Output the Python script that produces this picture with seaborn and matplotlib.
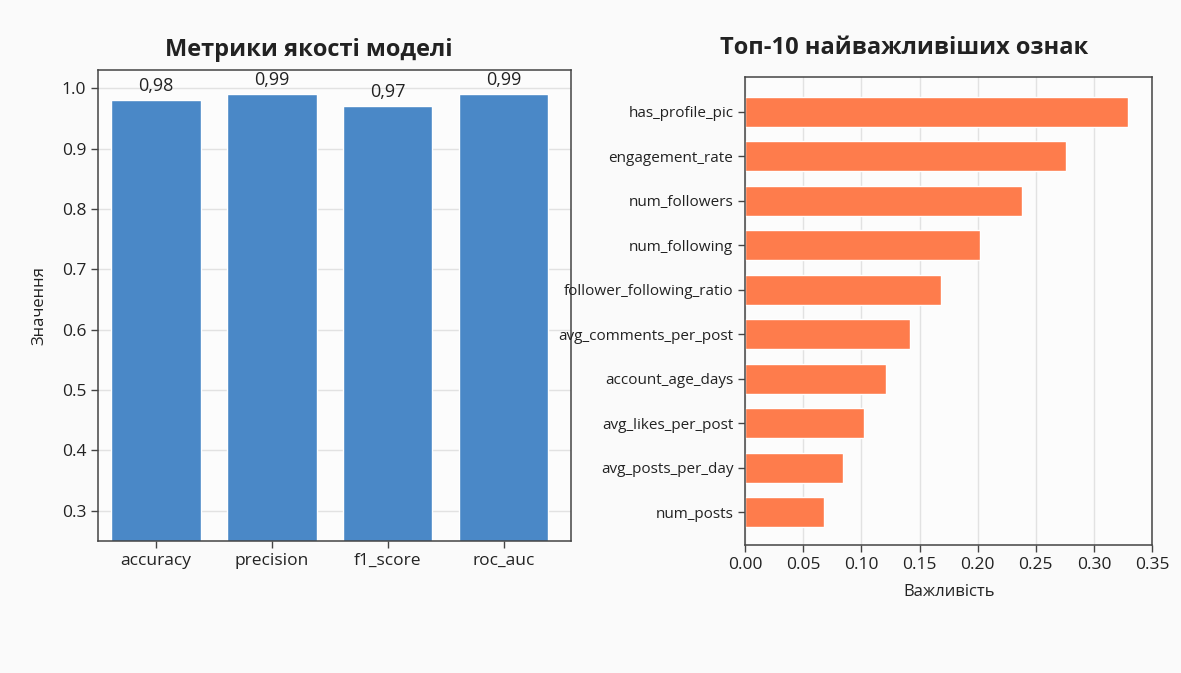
import matplotlib
matplotlib.use("Agg")
import matplotlib.pyplot as plt
import seaborn as sns
import pandas as pd

# Model quality metrics
metric_names = ["accuracy", "precision", "f1_score", "roc_auc"]
metric_values = [0.98, 0.99, 0.97, 0.99]

# Top-10 feature importances
feature_names = [
    "has_profile_pic", "engagement_rate", "num_followers", "num_following",
    "follower_following_ratio", "avg_comments_per_post", "account_age_days",
    "avg_likes_per_post", "avg_posts_per_day", "num_posts",
]
feature_importance = [0.329, 0.276, 0.238, 0.202, 0.168, 0.142, 0.121, 0.102, 0.0845, 0.068]

y_ticks = [0.3, 0.4, 0.5, 0.6, 0.7, 0.8, 0.9, 1.0]
x_ticks = [0.00, 0.05, 0.10, 0.15, 0.20, 0.25, 0.30, 0.35]

sns.set_theme(style="white")
plt.rcParams["font.family"] = ["Open Sans", "DejaVu Sans"]

BG = "#fafafa"
TXT = "#222222"
SPINE = "#444444"
GRID = "#e2e2e2"
BLUE = "#4a88c7"
ORANGE = "#fe7c4c"

fig = plt.figure(figsize=(11.81, 6.73), dpi=100, facecolor=BG)
ax1 = fig.add_axes([0.083, 0.196, 0.4005, 0.700])
ax2 = fig.add_axes([0.631, 0.190, 0.3445, 0.696])

metrics_df = pd.DataFrame({"metric": metric_names, "value": metric_values})
imp_df = pd.DataFrame({"feature": feature_names, "importance": feature_importance})

# Left panel: metric bars
sns.barplot(data=metrics_df, x="metric", y="value", color=BLUE, saturation=1,
            width=0.77, ax=ax1, zorder=2)
ax1.set_ylim(0.25, 1.03)
ax1.set_xlim(-0.5, 3.58)
ax1.set_yticks(y_ticks)
ax1.set_yticklabels([f"{t:.1f}" for t in y_ticks])
ax1.yaxis.grid(True, color=GRID, linewidth=1, zorder=0)
ax1.set_axisbelow(True)
for i, v in enumerate(metric_values):
    ax1.text(i, v + 0.008, f"{v:.2f}".replace(".", ","), ha="center", va="bottom",
             fontsize=13, color=TXT)
ax1.set_xlabel("")
ax1.set_ylabel("Значення", fontsize=12, color=TXT, labelpad=10)
ax1.set_title("Метрики якості моделі", fontsize=17, fontweight="bold",
              color=TXT, x=0.446, pad=10)

# Right panel: feature importances
sns.barplot(data=imp_df, y="feature", x="importance", color=ORANGE, saturation=1,
            width=0.68, orient="h", ax=ax2, zorder=2)
ax2.set_xlim(0, 0.35)
ax2.set_ylim(9.74, -0.79)
ax2.set_xticks(x_ticks)
ax2.set_xticklabels([f"{t:.2f}" for t in x_ticks])
ax2.xaxis.grid(True, color=GRID, linewidth=1, zorder=0)
ax2.set_axisbelow(True)
ax2.set_ylabel("")
ax2.set_xlabel("Важливість", fontsize=12, color=TXT, labelpad=8)
ax2.set_title("Топ-10 найважливіших ознак", fontsize=17, fontweight="bold",
              color=TXT, x=0.39, pad=16)

for ax in (ax1, ax2):
    ax.set_facecolor("#fcfcfc")
    for s in ax.spines.values():
        s.set_visible(True)
        s.set_color(SPINE)
        s.set_linewidth(1.1)
    ax.tick_params(axis="both", which="major", length=5, width=1, color=SPINE,
                   labelcolor=TXT, labelsize=12.5, bottom=True, left=True)

ax2.tick_params(axis="y", labelsize=11)

fig.savefig("out.png", dpi=100, facecolor=BG)
